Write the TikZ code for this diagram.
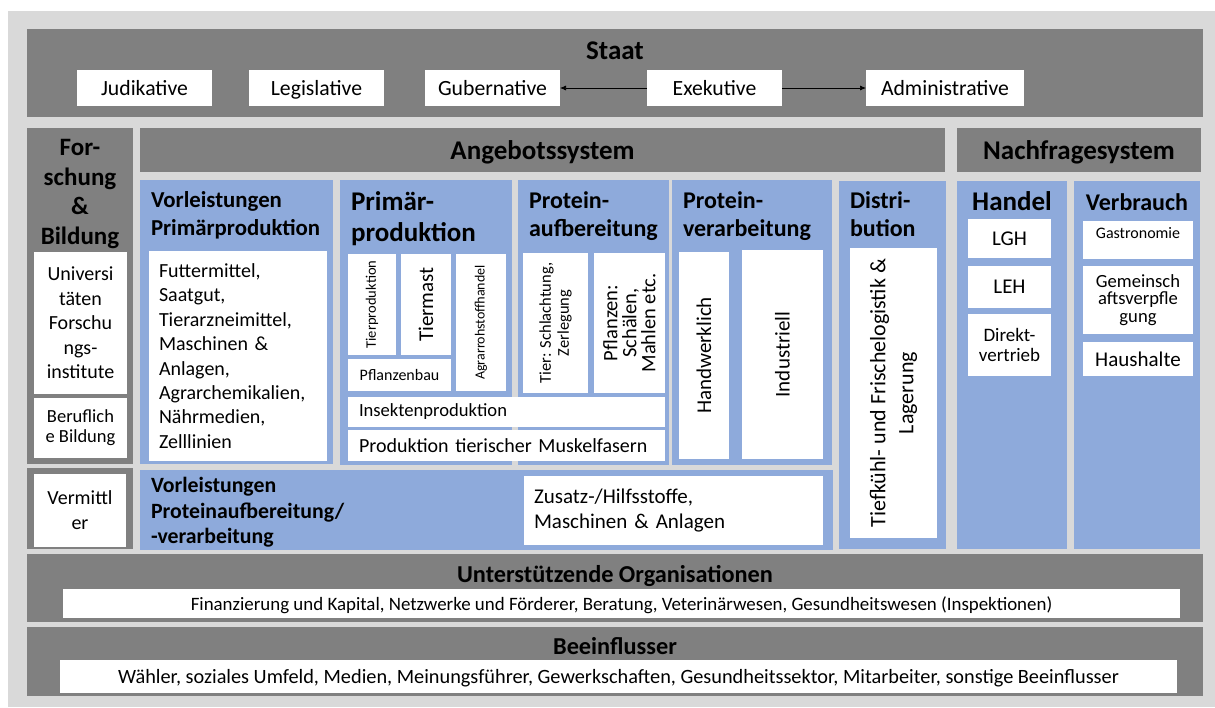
\documentclass[tikz,border=0pt]{standalone}
\usepackage{fontspec}
\setmainfont{Carlito}
\usetikzlibrary{arrows.meta}
\definecolor{dgray}{RGB}{128,128,128}
\definecolor{lgray}{RGB}{217,217,217}
\definecolor{lblue}{RGB}{142,170,219}
\newcommand\bx[7]{\node[inner sep=0pt,outer sep=0pt,align=center,minimum width={(#5-#3)*1pt},minimum height={(#6-#4)*1pt},#2] (#1) at ({(#3+#5)/2},{(#4+#6)/2}) {#7};}
\tikzset{
 fsz/.style 2 args={font=\fontsize{#1}{#2}\selectfont},
 bfz/.style 2 args={font=\fontsize{#1}{#2}\selectfont\bfseries},
 sline/.style={text height=#1pt, text depth=0pt},
 graybox/.style={fill=dgray},
 bluebox/.style={fill=lblue},
 whitebox/.style={fill=white},
 arr/.style={draw=black, line width=0.7pt, -{Latex[length=6pt,width=5pt]}},
 hdtext/.style={inner sep=0pt, outer sep=0pt},
 topbox/.style={whitebox,fsz={21.7}{26},sline=15},
}
\begin{document}
\begin{tikzpicture}[x=1pt,y=-1pt]
\useasboundingbox (0,0) rectangle (1215,707);
\fill[lgray] (8,11) rectangle (1215,707);
% Staat
\bx{staat}{graybox}{27}{29}{1203}{117}{}
\node[hdtext,bfz={27}{32},anchor=base] (staat-t) at (615,59.5) {Staat};
\bx{judi}{topbox}{77}{70}{212}{106}{Judikative}
\bx{legi}{topbox}{249}{70}{384}{106}{Legislative}
\bx{guber}{topbox}{425}{70}{560}{106}{Gubernative}
\bx{exek}{topbox}{647}{70}{782}{106}{Exekutive}
\bx{admin}{topbox}{866}{70}{1024}{106}{Administrative}
\draw[arr] (exek.west) -- (guber.east);
\draw[arr] (exek.east) -- (admin.west);
% Forschung & Bildung
\bx{forsch}{graybox}{27}{128}{133}{464}{}
\node[hdtext,bfz={25}{29.5},align=center,anchor=north] (forsch-t) at (80,139.5) {For-\\schung\\\&\\Bildung};
\bx{uni}{whitebox,fsz={20}{24.5}}{34}{252}{127}{394}{Universi\\täten\\Forschu\\ngs-\\institute}
\bx{beruf}{whitebox,fsz={18.5}{20}}{34}{398}{127}{458}{Beruflich\\e Bildung}
\bx{vermgr}{graybox}{27}{468}{133}{549}{}
\bx{verm}{whitebox,fsz={20}{25}}{34}{474}{126}{547}{Vermittl\\er}
% Angebot / Nachfrage bars
\bx{angebot}{graybox,bfz={27}{32},sline=18.5}{140}{128}{945}{172}{Angebotssystem}
\bx{nachfrage}{graybox,bfz={27}{32},sline=18.5}{957}{128}{1201}{172}{Nachfragesystem}
% Vorleistungen Primaerproduktion
\bx{vlprim}{bluebox}{140}{180}{333}{464}{}
\node[hdtext,bfz={22.8}{28},align=left,anchor=north west] (vlprim-t) at (151,191.5) {Vorleistungen\\Primärproduktion};
\bx{futter}{whitebox,fsz={20}{24.4},align=left,inner xsep=10pt,text width=158pt}{149}{251}{327}{461}{Futtermittel,\\Saatgut,\\Tierarzneimittel,\\Maschinen \&\\Anlagen,\\Agrarchemikalien,\\Nährmedien,\\Zelllinien}
% Primaerproduktion
\bx{prim}{bluebox}{340}{180}{512}{465}{}
\node[hdtext,bfz={27}{30.7},align=left,anchor=north west] (prim-t) at (351,192) {Primär-\\produktion};
\bx{tierprod}{whitebox}{348}{254}{396}{355}{}
\node[hdtext,fsz={14.5}{17},rotate=90] (tierprod-t) at (tierprod) {Tierproduktion};
\bx{tiermast}{whitebox}{401}{254}{451}{355}{}
\node[hdtext,fsz={21}{25},rotate=90] (tiermast-t) at (tiermast) {Tiermast};
\bx{pflbau}{whitebox,fsz={16}{19}}{348}{359}{451}{391}{Pflanzenbau}
\bx{agrar}{whitebox}{456}{254}{506}{391}{}
\node[hdtext,fsz={14}{17},rotate=90] (agrar-t) at (agrar) {Agrarrohstoffhandel};
% Proteinaufbereitung
\bx{pauf}{bluebox}{518}{180}{669}{465}{}
\node[hdtext,bfz={24}{28.3},align=left,anchor=north west] (pauf-t) at (529,191.5) {Protein-\\aufbereitung};
\bx{tierschl}{whitebox}{523}{253}{588}{393}{}
\node[hdtext,fsz={16.5}{18},rotate=90,align=center] (tierschl-t) at (tierschl) {Tier: Schlachtung,\\Zerlegung};
\bx{pflschael}{whitebox}{594}{253}{665}{393}{}
\node[hdtext,fsz={20.5}{19},rotate=90,align=center] (pflschael-t) at (pflschael) {Pflanzen:\\Schälen,\\Mahlen etc.};
% Insekten / Muskelfasern
\bx{insekt}{whitebox,fsz={18.6}{22},align=left,inner xsep=11pt,text width=295pt}{348}{397}{665}{427}{Insektenproduktion}
\bx{muskel}{whitebox,fsz={20}{24},align=left,inner xsep=11pt,text width=295pt}{348}{430}{665}{461}{Produktion tierischer Muskelfasern}
% Proteinverarbeitung
\bx{pver}{bluebox}{672}{180}{832}{465}{}
\node[hdtext,bfz={24}{28.3},align=left,anchor=north west] (pver-t) at (683,191.5) {Protein-\\verarbeitung};
\bx{handw}{whitebox}{679}{252}{729}{459}{}
\node[hdtext,fsz={21}{25},rotate=90] (handw-t) at (handw) {Handwerklich};
\bx{indus}{whitebox}{742}{250}{823}{459}{}
\node[hdtext,fsz={21}{25},rotate=90] (indus-t) at (indus) {Industriell};
% Vorleistungen Protein
\bx{vlprot}{bluebox}{140}{470}{833}{550}{}
\node[hdtext,bfz={21.8}{25.3},align=left,anchor=north west] (vlprot-t) at (151,477.5) {Vorleistungen\\Proteinaufbereitung/\\-verarbeitung};
\bx{zusatz}{whitebox,fsz={21}{25.5},align=left,inner xsep=10pt,text width=279pt}{524}{476}{823}{545}{Zusatz-/Hilfsstoffe,\\Maschinen \& Anlagen}
% Distribution
\bx{distr}{bluebox}{839}{181}{946}{549}{}
\node[hdtext,bfz={24}{28},align=left,anchor=north west] (distr-t) at (850,191.5) {Distri-\\bution};
\bx{tiefk}{whitebox}{850}{248}{937}{538}{}
\node[hdtext,fsz={22}{28},rotate=90,align=center] (tiefk-t) at (tiefk) {Tiefkühl- und Frischelogistik \&\\Lagerung};
% Handel
\bx{handel}{bluebox}{957}{181}{1067}{549}{}
\node[hdtext,bfz={27}{30},anchor=base] (handel-t) at (1012,210.5) {Handel};
\bx{lgh}{whitebox,fsz={21}{25}}{968}{219}{1051}{258}{LGH}
\bx{leh}{whitebox,fsz={21}{25}}{968}{266}{1051}{308}{LEH}
\bx{direkt}{whitebox,fsz={19}{20.7}}{968}{314}{1051}{376}{Direkt-\\vertrieb}
% Verbrauch
\bx{verbr}{bluebox}{1074}{181}{1200}{549}{}
\node[hdtext,bfz={24}{28},anchor=base] (verbr-t) at (1137,210.5) {Verbrauch};
\bx{gastro}{whitebox}{1083}{221}{1193}{259}{}
\node[hdtext,fsz={16}{19},anchor=base] (gastro-t) at (1138,238) {Gastronomie};
\bx{gemein}{whitebox,fsz={18.6}{17.5}}{1083}{266}{1193}{334}{Gemeinsch\\aftsverpfle\\gung}
\bx{haush}{whitebox,fsz={21}{25}}{1083}{342}{1193}{376}{Haushalte}
% Unterstuetzende Organisationen
\bx{unter}{graybox}{27}{554}{1203}{622}{}
\node[hdtext,bfz={24.3}{28},anchor=base] (unter-t) at (615,582) {Unterstützende Organisationen};
\bx{unterw}{whitebox,fsz={18.9}{22},sline=13}{63}{589}{1180}{618}{Finanzierung und Kapital, Netzwerke und Förderer, Beratung, Veterinärwesen, Gesundheitswesen (Inspektionen)}
% Beeinflusser
\bx{beein}{graybox}{27}{627}{1203}{696}{}
\node[hdtext,bfz={24.3}{28},anchor=base] (beein-t) at (615,654) {Beeinflusser};
\bx{beeinw}{whitebox,fsz={20.3}{24},sline=14}{60}{660}{1177}{693}{Wähler, soziales Umfeld, Medien, Meinungsführer, Gewerkschaften, Gesundheitssektor, Mitarbeiter, sonstige Beeinflusser}
\end{tikzpicture}
\end{document}
